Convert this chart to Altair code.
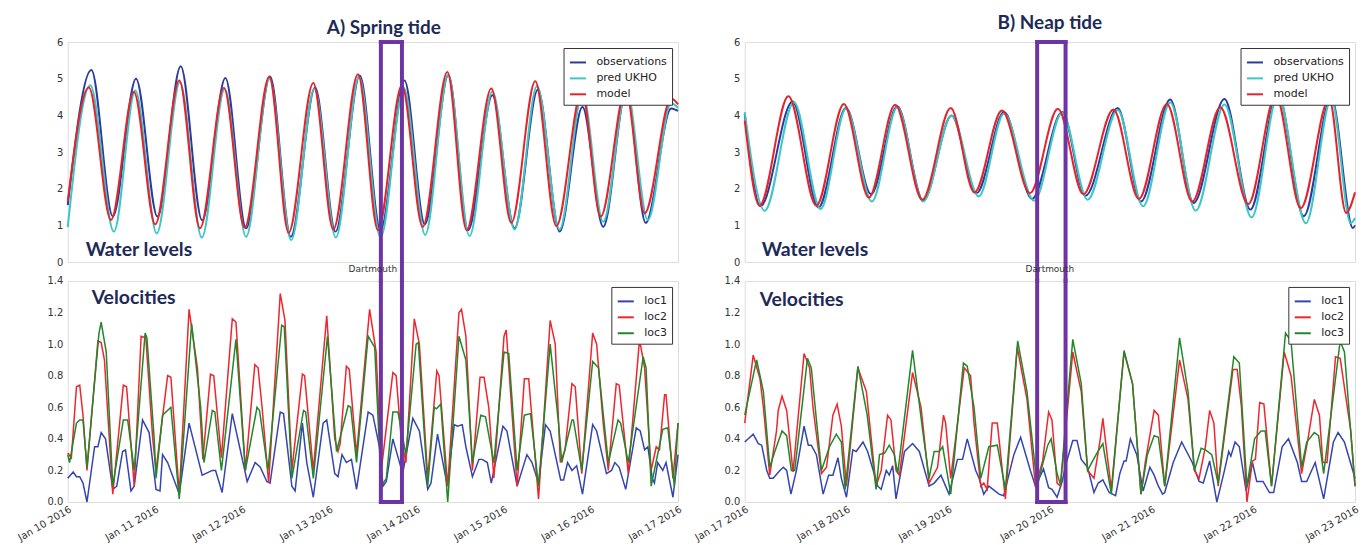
import altair as alt
import pandas as pd

# ---------------- Data (hours since first tick) ----------------
SPRING_TICK_LABELS = ["Jan 10 2016", "Jan 11 2016", "Jan 12 2016", "Jan 13 2016",
                      "Jan 14 2016", "Jan 15 2016", "Jan 16 2016", "Jan 17 2016"]
NEAP_TICK_LABELS = ["Jan 17 2016", "Jan 18 2016", "Jan 19 2016", "Jan 20 2016",
                    "Jan 21 2016", "Jan 22 2016", "Jan 23 2016"]

WATER_SERIES = ["observations", "pred UKHO", "model"]
VEL_SERIES = ["loc1", "loc2", "loc3"]

# Spring tide water levels
SPRING_OBS_H = [0, 6.5, 12.4, 18.8, 24.7, 31.1, 37.0, 43.4, 49.1, 55.7, 61.4, 68.1, 73.7, 80.4, 86.1, 92.7, 98.3,
                104.8, 110.2, 116.9, 123.0, 129.4, 135.4, 141.7, 147.4, 153.8, 159.1, 166.1, 168]
SPRING_OBS_V = [1.55, 5.24, 1.25, 5.0, 1.24, 5.34, 1.14, 5.02, 0.92, 5.06, 0.69, 4.76, 0.83, 5.09, 0.87, 4.95, 1.03,
                5.1, 0.87, 4.55, 0.92, 4.7, 0.83, 4.23, 0.96, 4.69, 1.07, 4.19, 4.12]
SPRING_UKHO_H = [0, 6.2, 12.7, 18.6, 24.5, 30.9, 36.9, 43.2, 49.1, 55.5, 61.5, 67.9, 73.8, 80.2, 86.1, 92.5, 98.4,
                 104.7, 110.6, 116.9, 123.0, 129.2, 135.4, 141.7, 147.4, 153.8, 159.7, 166.1, 168]
SPRING_UKHO_V = [0.95, 4.82, 0.83, 4.68, 0.78, 4.9, 0.67, 4.72, 0.69, 5.0, 0.6, 4.72, 0.67, 5.05, 0.67, 4.75, 0.74,
                 5.1, 0.71, 4.65, 0.89, 4.8, 0.89, 4.6, 1.1, 4.7, 1.15, 4.33, 4.2]
SPRING_MODEL_H = [0, 5.8, 11.9, 18.2, 24.1, 30.7, 36.4, 43.0, 48.7, 55.5, 60.8, 67.6, 73.1, 79.9, 85.4, 92.0, 97.7,
                  104.5, 109.8, 116.6, 122.1, 128.7, 134.5, 141.5, 146.7, 153.6, 158.8, 166.1, 168]
SPRING_MODEL_V = [1.65, 4.76, 1.15, 4.64, 1.03, 4.95, 0.92, 4.75, 0.94, 5.06, 0.8, 4.88, 0.89, 5.12, 0.87, 4.82, 0.96,
                  5.18, 0.87, 4.73, 1.07, 4.93, 0.98, 4.65, 1.24, 4.7, 1.33, 4.46, 4.3]

# Neap tide water levels
NEAP_OBS_H = [0, 3.7, 11.3, 17.4, 23.9, 29.8, 36.0, 42.1, 48.8, 54.7, 61.2, 67.8, 74.9, 80.4, 88.0, 93.5, 100.4,
              105.9, 113.2, 119.3, 125.8, 131.9, 138.4, 143.5, 144]
NEAP_OBS_V = [4.04, 1.52, 4.38, 1.49, 4.2, 1.85, 4.25, 1.68, 4.0, 1.88, 4.09, 1.72, 4.09, 1.81, 4.2, 1.65, 4.43,
              1.61, 4.45, 1.43, 4.6, 1.25, 4.49, 0.93, 1.0]
NEAP_UKHO_H = [0, 4.7, 11.6, 17.9, 23.9, 30.0, 36.0, 42.1, 48.8, 55.2, 61.2, 68.3, 74.9, 80.9, 88.0, 94.0, 100.4,
               106.4, 113.2, 119.6, 125.8, 132.4, 138.4, 143.0, 144]
NEAP_UKHO_V = [4.09, 1.4, 4.36, 1.45, 4.18, 1.65, 4.22, 1.65, 4.0, 1.79, 4.05, 1.67, 4.08, 1.7, 4.15, 1.52, 4.35,
               1.4, 4.3, 1.22, 4.55, 1.06, 4.45, 1.06, 1.2]
NEAP_MODEL_H = [0, 3.5, 10.3, 16.9, 23.4, 29.3, 35.5, 41.9, 48.6, 54.2, 60.7, 67.3, 73.9, 79.9, 87.0, 93.0, 99.6,
                105.6, 112.2, 118.8, 125.3, 131.2, 137.9, 141.9, 144]
NEAP_MODEL_V = [3.86, 1.54, 4.52, 1.54, 4.31, 1.76, 4.29, 1.7, 4.2, 1.9, 4.13, 1.88, 4.18, 1.85, 4.16, 1.72, 4.31,
                1.65, 4.22, 1.58, 4.55, 1.47, 4.45, 1.34, 1.9]

# Spring tide velocities
SPRING_LOC1_H = [0, 1.5, 2.4, 3.3, 4.2, 5.3, 7.4, 8.3, 9.2, 10.4, 12.4, 13.5, 15.1, 15.9, 17.4, 18.3, 20.6, 22.4,
                 24.3, 25.4, 26.1, 27.5, 30.7, 33.4, 37.0, 39.8, 40.7, 42.5, 45.3, 49.4, 51.6, 53.0, 54.8, 55.7,
                 58.5, 59.4, 61.7, 62.6, 64.6, 65.8, 67.6, 70.3, 71.3, 73.5, 74.4, 75.5, 76.7, 78.1, 79.5, 82.7,
                 84.0, 85.8, 86.8, 87.7, 89.5, 92.2, 95.0, 96.8, 99.1, 100.0, 101.8, 104.5, 106.4, 107.3, 108.6,
                 109.6, 111.4, 113.2, 114.1, 115.5, 116.6, 117.3, 119.8, 120.9, 123.7, 126.4, 127.8, 129.6, 131.5,
                 132.8, 135.7, 136.5, 137.6, 138.8, 140.1, 141.7, 144.5, 145.6, 148.3, 149.7, 150.6, 151.8, 153.6,
                 156.5, 157.6, 158.8, 159.7, 160.9, 161.5, 162.4, 163.8, 164.7, 166.6, 168]
SPRING_LOC1_V = [0.15, 0.19, 0.16, 0.16, 0.12, 0.0, 0.35, 0.35, 0.44, 0.4, 0.08, 0.1, 0.32, 0.33, 0.07, 0.1, 0.52,
                 0.44, 0.08, 0.07, 0.3, 0.25, 0.05, 0.5, 0.17, 0.2, 0.2, 0.06, 0.56, 0.13, 0.25, 0.22, 0.13, 0.12,
                 0.57, 0.56, 0.1, 0.07, 0.5, 0.25, 0.03, 0.5, 0.52, 0.18, 0.16, 0.3, 0.25, 0.27, 0.08, 0.57, 0.55,
                 0.35, 0.1, 0.13, 0.4, 0.18, 0.53, 0.45, 0.08, 0.12, 0.43, 0.1, 0.49, 0.48, 0.49, 0.35, 0.16, 0.27,
                 0.27, 0.25, 0.12, 0.2, 0.48, 0.45, 0.1, 0.3, 0.25, 0.12, 0.49, 0.45, 0.14, 0.14, 0.25, 0.2, 0.23,
                 0.05, 0.49, 0.45, 0.18, 0.2, 0.25, 0.22, 0.08, 0.47, 0.45, 0.33, 0.35, 0.15, 0.12, 0.25, 0.2, 0.25,
                 0.03, 0.3]
SPRING_LOC2_H = [0, 1.0, 2.4, 3.3, 4.2, 5.3, 8.3, 9.2, 10.1, 12.4, 15.3, 16.2, 18.3, 20.2, 21.5, 23.4, 24.3, 27.5,
                 28.4, 30.7, 33.4, 35.7, 37.2, 39.3, 40.2, 42.3, 45.3, 46.3, 48.9, 51.5, 52.4, 53.5, 55.3, 58.5,
                 59.8, 61.7, 64.6, 65.2, 67.6, 71.3, 73.5, 74.4, 75.0, 76.7, 77.5, 79.5, 83.1, 84.9, 86.3, 89.5,
                 90.4, 91.8, 93.1, 95.4, 96.8, 99.1, 101.6, 102.2, 104.6, 107.7, 108.4, 109.6, 111.4, 113.5, 114.6,
                 115.9, 117.3, 120.1, 120.7, 123.7, 125.7, 126.9, 129.6, 132.8, 134.2, 135.6, 136.9, 138.8, 139.7,
                 141.5, 144.5, 145.6, 147.4, 148.8, 151.0, 151.8, 154.3, 157.4, 158.8, 160.6, 162.0, 162.9, 164.3,
                 164.7, 166.6, 168]
SPRING_LOC2_V = [0.31, 0.28, 0.73, 0.74, 0.55, 0.2, 1.02, 1.01, 0.9, 0.05, 0.74, 0.73, 0.1, 1.05, 1.04, 0.4, 0.2,
                 0.8, 0.79, 0.05, 1.22, 0.85, 0.27, 0.81, 0.8, 0.28, 1.16, 1.14, 0.2, 0.87, 0.85, 0.6, 0.12, 1.32,
                 1.15, 0.2, 0.81, 0.8, 0.2, 1.18, 0.4, 0.32, 0.37, 0.86, 0.84, 0.3, 1.22, 0.95, 0.2, 0.82, 0.8, 0.4,
                 0.25, 1.16, 1.0, 0.15, 0.83, 0.8, 0.1, 1.2, 1.22, 1.05, 0.2, 0.79, 0.79, 0.6, 0.15, 1.05, 1.09,
                 0.1, 0.78, 0.78, 0.02, 1.15, 1.0, 0.25, 0.33, 0.75, 0.73, 0.18, 1.07, 1.0, 0.5, 0.2, 0.75, 0.74,
                 0.18, 1.03, 0.85, 0.2, 0.35, 0.33, 0.68, 0.68, 0.15, 0.5]
SPRING_LOC3_H = [0, 0.5, 2.4, 3.3, 4.2, 5.3, 8.6, 9.2, 10.6, 12.4, 15.3, 16.5, 18.3, 21.3, 21.8, 23.8, 24.3, 26.1,
                 28.4, 30.7, 34.1, 36.6, 37.5, 39.8, 40.5, 42.3, 46.3, 48.9, 52.1, 52.8, 55.1, 58.9, 59.6, 61.7,
                 64.9, 65.5, 67.6, 71.5, 74.0, 77.2, 77.9, 79.5, 82.7, 84.5, 86.3, 87.7, 89.5, 90.9, 93.1, 95.9,
                 96.5, 99.1, 100.9, 101.5, 102.7, 104.6, 107.7, 109.6, 111.4, 113.7, 115.0, 117.3, 120.1, 121.4,
                 123.7, 125.7, 127.4, 129.6, 132.8, 135.1, 136.0, 138.8, 139.2, 141.5, 144.5, 146.1, 148.8, 151.5,
                 152.2, 154.3, 158.4, 159.2, 160.6, 163.8, 165.2, 167.0, 168]
SPRING_LOC3_V = [0.3, 0.25, 0.5, 0.52, 0.52, 0.22, 1.07, 1.14, 0.95, 0.1, 0.52, 0.52, 0.2, 1.07, 1.04, 0.4, 0.15,
                 0.55, 0.6, 0.02, 1.13, 0.6, 0.25, 0.58, 0.57, 0.2, 1.03, 0.2, 0.6, 0.58, 0.2, 1.12, 1.11, 0.15,
                 0.58, 0.57, 0.15, 1.05, 0.32, 0.61, 0.6, 0.25, 1.05, 0.98, 0.1, 0.15, 0.57, 0.57, 0.3, 1.0, 1.01,
                 0.1, 0.6, 0.59, 0.62, 0.0, 1.05, 0.9, 0.25, 0.55, 0.54, 0.25, 0.95, 0.94, 0.2, 0.55, 0.56, 0.1,
                 1.0, 0.5, 0.25, 0.52, 0.52, 0.2, 0.89, 0.85, 0.25, 0.52, 0.5, 0.25, 0.92, 0.85, 0.1, 0.46, 0.47,
                 0.1, 0.5]

# Neap tide velocities
NEAP_LOC1_H = [0, 2.0, 3.2, 4.0, 5.2, 5.9, 6.7, 8.3, 9.1, 9.9, 10.9, 12.2, 14.0, 15.0, 15.7, 16.9, 18.5, 19.8, 20.8,
               22.0, 22.8, 24.0, 25.5, 26.3, 27.9, 29.0, 31.4, 32.2, 33.4, 34.1, 34.9, 35.7, 37.7, 39.6, 41.2, 43.5,
               44.7, 46.3, 48.2, 50.2, 51.4, 52.5, 54.5, 55.3, 56.4, 57.6, 60.0, 61.1, 63.5, 65.1, 67.4, 68.6,
               70.5, 71.7, 72.5, 73.7, 74.9, 75.9, 77.4, 78.4, 79.4, 80.9, 82.4, 83.4, 84.5, 86.0, 87.5, 88.5,
               89.5, 90.0, 91.0, 92.5, 94.0, 95.6, 96.6, 97.6, 98.6, 99.1, 101.1, 103.1, 105.6, 107.2, 108.2,
               109.7, 111.4, 113.2, 114.2, 114.7, 115.7, 116.7, 118.3, 119.8, 120.8, 122.3, 123.8, 124.8, 126.8,
               128.3, 130.4, 131.4, 132.6, 134.6, 136.6, 138.9, 140.0, 141.5, 144.0]
NEAP_LOC1_V = [0.38, 0.43, 0.37, 0.36, 0.2, 0.15, 0.15, 0.2, 0.22, 0.2, 0.05, 0.2, 0.48, 0.36, 0.36, 0.3, 0.05, 0.17,
               0.17, 0.28, 0.15, 0.03, 0.33, 0.32, 0.38, 0.32, 0.1, 0.08, 0.2, 0.17, 0.23, 0.02, 0.32, 0.37, 0.32,
               0.1, 0.12, 0.17, 0.05, 0.27, 0.27, 0.4, 0.2, 0.15, 0.05, 0.1, 0.05, 0.04, 0.3, 0.41, 0.2, 0.1, 0.21,
               0.09, 0.08, 0.03, 0.13, 0.25, 0.39, 0.39, 0.27, 0.22, 0.06, 0.12, 0.14, 0.06, 0.04, 0.18, 0.26,
               0.26, 0.4, 0.3, 0.07, 0.22, 0.17, 0.1, 0.05, 0.06, 0.25, 0.38, 0.25, 0.13, 0.12, 0.26, 0.0, 0.2,
               0.32, 0.29, 0.38, 0.35, 0.07, 0.25, 0.13, 0.13, 0.06, 0.06, 0.35, 0.4, 0.25, 0.13, 0.13, 0.25, 0.02,
               0.38, 0.44, 0.38, 0.15]
NEAP_LOC2_H = [0, 2.0, 3.6, 4.4, 5.9, 7.5, 7.9, 8.8, 9.9, 11.4, 14.0, 15.3, 16.1, 18.1, 19.3, 20.8, 21.8, 22.8, 24.0,
               26.7, 28.7, 31.0, 32.2, 33.7, 34.5, 35.7, 36.5, 39.6, 41.6, 43.5, 45.5, 46.9, 47.4, 48.6, 51.8, 53.3,
               54.1, 55.7, 56.4, 57.2, 58.4, 59.6, 61.5, 64.3, 66.6, 68.6, 70.3, 71.7, 72.5, 73.7, 74.5, 77.4,
               79.4, 80.9, 82.4, 83.9, 84.5, 85.5, 86.5, 89.5, 91.5, 93.5, 94.5, 96.6, 97.6, 99.1, 102.6, 104.6,
               106.1, 107.2, 108.7, 109.7, 110.7, 111.7, 115.2, 116.2, 117.2, 118.5, 119.8, 120.5, 121.5, 122.5,
               124.3, 127.3, 128.9, 131.4, 132.9, 134.4, 135.6, 136.4, 137.4, 139.4, 140.5, 143.0, 144.0]
NEAP_LOC2_V = [0.5, 0.93, 0.78, 0.6, 0.17, 0.45, 0.58, 0.67, 0.58, 0.19, 0.94, 0.85, 0.6, 0.18, 0.22, 0.55, 0.62,
               0.48, 0.1, 0.85, 0.7, 0.1, 0.2, 0.55, 0.52, 0.2, 0.17, 0.82, 0.6, 0.12, 0.22, 0.55, 0.5, 0.15, 0.85,
               0.8, 0.5, 0.1, 0.12, 0.08, 0.5, 0.5, 0.02, 0.98, 0.65, 0.1, 0.26, 0.57, 0.52, 0.12, 0.1, 0.95, 0.7,
               0.2, 0.15, 0.4, 0.53, 0.3, 0.08, 0.95, 0.75, 0.05, 0.25, 0.58, 0.55, 0.1, 0.9, 0.65, 0.2, 0.15,
               0.35, 0.58, 0.5, 0.1, 0.84, 0.84, 0.6, 0.0, 0.26, 0.27, 0.63, 0.62, 0.1, 0.95, 0.8, 0.18, 0.4, 0.65,
               0.55, 0.25, 0.25, 0.92, 0.91, 0.45, 0.1]
NEAP_LOC3_H = [0, 2.8, 4.4, 5.9, 7.1, 8.8, 9.9, 11.0, 11.8, 14.8, 15.7, 18.1, 20.0, 21.6, 22.8, 23.7, 26.7, 28.9,
               31.0, 31.8, 33.0, 34.1, 35.3, 36.1, 39.6, 42.0, 43.5, 44.7, 45.9, 46.7, 48.6, 51.6, 52.5, 54.1, 55.7,
               57.6, 59.6, 61.5, 64.4, 66.6, 69.0, 70.3, 71.5, 72.3, 73.7, 74.5, 77.4, 79.4, 80.9, 82.9, 84.5,
               86.5, 89.5, 91.5, 93.5, 95.0, 96.6, 97.6, 99.1, 102.6, 104.6, 106.1, 107.7, 108.7, 110.2, 111.7,
               115.4, 116.7, 118.5, 120.3, 121.8, 122.8, 124.3, 127.6, 128.9, 131.4, 132.6, 134.4, 135.4, 136.6,
               140.5, 141.5, 144.0]
NEAP_LOC3_V = [0.55, 0.9, 0.7, 0.22, 0.32, 0.45, 0.42, 0.2, 0.2, 0.91, 0.85, 0.2, 0.35, 0.43, 0.38, 0.08, 0.86,
               0.55, 0.08, 0.3, 0.31, 0.36, 0.3, 0.18, 0.96, 0.45, 0.15, 0.32, 0.32, 0.35, 0.05, 0.88, 0.86, 0.6,
               0.15, 0.35, 0.36, 0.08, 1.02, 0.7, 0.1, 0.24, 0.36, 0.4, 0.18, 0.11, 1.03, 0.75, 0.2, 0.3, 0.37,
               0.05, 0.96, 0.75, 0.05, 0.3, 0.42, 0.41, 0.1, 1.04, 0.7, 0.2, 0.34, 0.33, 0.3, 0.12, 0.92, 0.88,
               0.1, 0.4, 0.45, 0.45, 0.1, 1.07, 1.02, 0.22, 0.38, 0.44, 0.42, 0.18, 1.02, 0.95, 0.1]

# highlighted windows (hours)
SPRING_BOX = [86.2, 92.0]
NEAP_BOX = [69.0, 75.7]

# ---------------- Style ----------------
WATER_COLORS = ["#2b3a9c", "#3cc6c6", "#e5232b"]
VEL_COLORS = ["#3444b0", "#ee262d", "#22862a"]
PURPLE = "#6e34a3"
NAVY = "#1d2a57"
W = 613
H_TOP = 221
H_BOT = 222
GAP = 19
LABEL_FONT = "DejaVu Sans"
NOTE_FONT = "Lato"


def long_df(names, pairs):
    rows = []
    for name, (hs, vs) in zip(names, pairs):
        for h, v in zip(hs, vs):
            rows.append({"hour": h, "value": v, "series": name})
    return pd.DataFrame(rows)


def legend():
    return alt.Legend(title=None, orient="top-right", offset=6, fillColor="white", strokeColor="#333",
                      padding=5, symbolType="stroke", symbolSize=260,
                      symbolStrokeWidth=2, labelFontSize=11, labelFont=LABEL_FONT, labelColor="#222",
                      rowPadding=1, labelOffset=9)


def label_expr(labels):
    arr = "[" + ",".join("'" + s + "'" for s in labels) + "]"
    return arr + "[round(datum.value / 24)]"


def box_layers(box, top, h_plot):
    vdf = pd.DataFrame({"hour": box})
    hdf = pd.DataFrame({"hour": [box[0]], "hour2": [box[1]]})
    if top:
        v = alt.Chart(vdf).mark_rule(color=PURPLE, strokeWidth=4, strokeCap="square").encode(
            x="hour:Q", y=alt.value(0), y2=alt.value(h_plot + GAP))
        hline = alt.Chart(hdf).mark_rule(color=PURPLE, strokeWidth=4, strokeCap="square").encode(
            x="hour:Q", x2="hour2:Q", y=alt.value(0))
    else:
        v = alt.Chart(vdf).mark_rule(color=PURPLE, strokeWidth=4, strokeCap="square").encode(
            x="hour:Q", y=alt.value(0), y2=alt.value(h_plot))
        hline = alt.Chart(hdf).mark_rule(color=PURPLE, strokeWidth=4, strokeCap="square").encode(
            x="hour:Q", x2="hour2:Q", y=alt.value(h_plot))
    return [v, hline]


def note(text, x, y):
    return alt.Chart(pd.DataFrame({"t": [text]})).mark_text(
        align="left", baseline="alphabetic", font=NOTE_FONT, fontWeight="bold", fontSize=19.5, color=NAVY
    ).encode(x=alt.value(x), y=alt.value(y), text="t:N")


def water_panel(df, xmax, box, title, title_dx, title_offset, note_x):
    xenc = alt.X("hour:Q", scale=alt.Scale(domain=[0, xmax], nice=False, zero=False),
                 axis=alt.Axis(labels=False, ticks=False, domain=False, grid=False, title=None))
    yenc = alt.Y("value:Q", scale=alt.Scale(domain=[0, 6], nice=False),
                 axis=alt.Axis(values=[0, 1, 2, 3, 4, 5, 6], ticks=False, domain=False, grid=False,
                               title=None, labelFont=LABEL_FONT, labelFontSize=10, labelColor="#333",
                               labelPadding=5))
    lines = alt.Chart(df).mark_line(interpolate="monotone", strokeWidth=2).encode(
        x=xenc, y=yenc,
        color=alt.Color("series:N", scale=alt.Scale(domain=WATER_SERIES, range=WATER_COLORS), legend=legend()),
        detail="series:N")
    layers = [lines] + box_layers(box, True, H_TOP) + [note("Water levels", note_x, H_TOP - 6)]
    return alt.layer(*layers).properties(
        width=W, height=H_TOP,
        title=alt.TitleParams(title, font=NOTE_FONT, fontSize=19, fontWeight="bold", color=NAVY,
                              anchor="middle", dx=title_dx, offset=title_offset))


def velocity_panel(df, xmax, box, tick_labels, note_x, note_y):
    xenc = alt.X("hour:Q", scale=alt.Scale(domain=[0, xmax], nice=False, zero=False),
                 axis=alt.Axis(values=[24 * i for i in range(len(tick_labels))],
                               labelExpr=label_expr(tick_labels), labelAngle=-30, labelAlign="right",
                               labelBaseline="top", labelFont=LABEL_FONT, labelFontSize=10, labelColor="#333",
                               labelOverlap=False, labelFlush=False, labelPadding=2, ticks=False,
                               domain=False, grid=False, title=None))
    yenc = alt.Y("value:Q", scale=alt.Scale(domain=[0, 1.4], nice=False),
                 axis=alt.Axis(values=[0, 0.2, 0.4, 0.6, 0.8, 1.0, 1.2, 1.4], format=".1f", ticks=False,
                               domain=False, grid=False, title=None, labelFont=LABEL_FONT, labelFontSize=10,
                               labelColor="#333", labelPadding=5))
    lines = alt.Chart(df).mark_line(strokeWidth=1.5).encode(
        x=xenc, y=yenc,
        color=alt.Color("series:N", scale=alt.Scale(domain=VEL_SERIES, range=VEL_COLORS), legend=legend()),
        detail="series:N")
    layers = [lines] + box_layers(box, False, H_BOT) + [note("Velocities", note_x, note_y)]
    return alt.layer(*layers).properties(
        width=W, height=H_BOT,
        title=alt.TitleParams("Dartmouth", font=LABEL_FONT, fontSize=9, fontWeight="normal", color="#333",
                              anchor="middle", offset=2))


spring_water = long_df(WATER_SERIES, [(SPRING_OBS_H, SPRING_OBS_V), (SPRING_UKHO_H, SPRING_UKHO_V),
                                      (SPRING_MODEL_H, SPRING_MODEL_V)])
neap_water = long_df(WATER_SERIES, [(NEAP_OBS_H, NEAP_OBS_V), (NEAP_UKHO_H, NEAP_UKHO_V),
                                    (NEAP_MODEL_H, NEAP_MODEL_V)])
spring_vel = long_df(VEL_SERIES, [(SPRING_LOC1_H, SPRING_LOC1_V), (SPRING_LOC2_H, SPRING_LOC2_V),
                                  (SPRING_LOC3_H, SPRING_LOC3_V)])
neap_vel = long_df(VEL_SERIES, [(NEAP_LOC1_H, NEAP_LOC1_V), (NEAP_LOC2_H, NEAP_LOC2_V),
                                (NEAP_LOC3_H, NEAP_LOC3_V)])

tl = water_panel(spring_water, 168, SPRING_BOX, "A) Spring tide", 11, -1, 18)
tr = water_panel(neap_water, 144, NEAP_BOX, "B) Neap tide", 0, 4, 17)
bl = velocity_panel(spring_vel, 168, SPRING_BOX, SPRING_TICK_LABELS, 24, 23)
br = velocity_panel(neap_vel, 144, NEAP_BOX, NEAP_TICK_LABELS, 15, 25)

chart = alt.concat(tl, tr, bl, br, columns=2, spacing={"row": GAP, "column": 67}, bounds="flush").resolve_scale(
    color="independent", x="independent", y="independent"
).properties(
    padding={"left": 7, "top": 4, "right": 0, "bottom": 0}
).configure_view(stroke="#555", strokeWidth=1).configure(background="white")

chart.save("out.html", embed_options={"renderer": "svg", "actions": False})
